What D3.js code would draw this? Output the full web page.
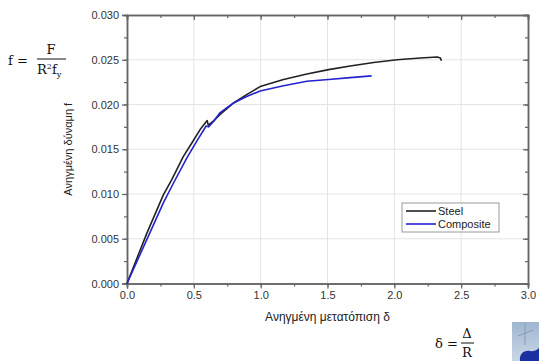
<!DOCTYPE html>
<html>
<head>
<meta charset="utf-8">
<script src="https://cdn.jsdelivr.net/npm/d3@7"></script>
<style>
  html, body { margin: 0; padding: 0; background: #fff; }
  svg { display: block; font-family: "Liberation Sans", Arial, sans-serif; }
</style>
</head>
<body>
<svg id="chart" width="539" height="361"></svg>
<script>
// Normalised displacement δ vs normalised force f
const steelDelta = [0, 0.05, 0.148, 0.272, 0.335, 0.422, 0.485, 0.547, 0.60, 0.608, 0.65, 0.697, 0.80, 0.895, 0.996, 1.171, 1.346, 1.508, 1.67, 1.845, 2.02, 2.195, 2.32, 2.345, 2.352];
const steelForce = [0, 0.0019, 0.0056, 0.0099, 0.0116, 0.0142, 0.0157, 0.0172, 0.0182, 0.0177, 0.0182, 0.0189, 0.0202, 0.0211, 0.0220, 0.0228, 0.0234, 0.0239, 0.0243, 0.0247, 0.0250, 0.0252, 0.0253, 0.0252, 0.0249];

const compDelta = [0, 0.148, 0.272, 0.347, 0.447, 0.522, 0.592, 0.61, 0.647, 0.697, 0.80, 0.895, 0.996, 1.171, 1.346, 1.508, 1.67, 1.83];
const compForce = [0, 0.0049, 0.0090, 0.0112, 0.0140, 0.0159, 0.0176, 0.0175, 0.0181, 0.0191, 0.0202, 0.0209, 0.0215, 0.0221, 0.0226, 0.0228, 0.0230, 0.0232];

const xTicks = [0, 0.5, 1.0, 1.5, 2.0, 2.5, 3.0];
const yTicks = [0, 0.005, 0.010, 0.015, 0.020, 0.025, 0.030];
const seriesNames = ["Steel", "Composite"];
const seriesColors = ["#222", "#2323d0"];

const svg = d3.select("#chart");
const plotLeft = 127, plotRight = 528, plotTop = 15, plotBottom = 283.5;

const x = d3.scaleLinear().domain([0, 3]).range([plotLeft, plotRight]);
const y = d3.scaleLinear().domain([0, 0.03]).range([plotBottom, plotTop]);

const minorX = d3.range(0, 3.01, 0.25);
const minorY = d3.range(0, 0.03001, 0.0025);

// grid
svg.append("g").selectAll("line").data(xTicks.slice(1, -1)).join("line")
  .attr("x1", d => x(d)).attr("x2", d => x(d)).attr("y1", plotTop).attr("y2", plotBottom)
  .attr("stroke", "#e4e4e4").attr("stroke-width", 1);
svg.append("g").selectAll("line").data(yTicks.slice(1, -1)).join("line")
  .attr("y1", d => y(d)).attr("y2", d => y(d)).attr("x1", plotLeft).attr("x2", plotRight)
  .attr("stroke", "#e4e4e4").attr("stroke-width", 1);

// axes: outward ticks bottom/left, mirrored inward ticks top/right
const axisColor = "#666";
svg.append("g").attr("transform", `translate(0,${plotBottom})`)
  .call(d3.axisBottom(x).tickValues(xTicks).tickFormat(d3.format(".1f")).tickSize(5).tickPadding(3));
svg.append("g").attr("transform", `translate(${plotLeft},0)`)
  .call(d3.axisLeft(y).tickValues(yTicks).tickFormat(d3.format(".3f")).tickSize(5).tickPadding(3));
svg.append("g").attr("transform", `translate(0,${plotTop})`)
  .call(d3.axisBottom(x).tickValues(xTicks).tickFormat("").tickSize(5));
svg.append("g").attr("transform", `translate(${plotRight},0)`)
  .call(d3.axisLeft(y).tickValues(yTicks).tickFormat("").tickSize(5));

// minor ticks
svg.append("g").attr("transform", `translate(0,${plotBottom})`)
  .call(d3.axisBottom(x).tickValues(minorX).tickFormat("").tickSize(3));
svg.append("g").attr("transform", `translate(${plotLeft},0)`)
  .call(d3.axisLeft(y).tickValues(minorY).tickFormat("").tickSize(3));
svg.append("g").attr("transform", `translate(0,${plotTop})`)
  .call(d3.axisBottom(x).tickValues(minorX).tickFormat("").tickSize(3));
svg.append("g").attr("transform", `translate(${plotRight},0)`)
  .call(d3.axisLeft(y).tickValues(minorY).tickFormat("").tickSize(3));

svg.selectAll(".domain").attr("stroke", axisColor).attr("stroke-width", 1.5);
svg.selectAll(".tick line").attr("stroke", axisColor).attr("stroke-width", 1.2);
svg.selectAll(".tick text").attr("fill", "#333").attr("font-size", 11)
  .attr("font-family", "Liberation Sans, Arial, sans-serif");

// curves
const line = d3.line().x(d => x(d[0])).y(d => y(d[1]));
const series = [
  d3.zip(steelDelta, steelForce),
  d3.zip(compDelta, compForce)
];
svg.append("g").selectAll("path").data(series).join("path")
  .attr("d", line)
  .attr("fill", "none")
  .attr("stroke", (d, i) => seriesColors[i])
  .attr("stroke-width", 1.6)
  .attr("stroke-linejoin", "round");

// axis titles
svg.append("text")
  .attr("x", (plotLeft + plotRight) / 2).attr("y", 321)
  .attr("text-anchor", "middle").attr("font-size", 12).attr("fill", "#222")
  .text("Ανηγμένη μετατόπιση δ");
svg.append("text")
  .attr("transform", `translate(72,${(plotTop + plotBottom) / 2}) rotate(-90)`)
  .attr("text-anchor", "middle").attr("font-size", 11).attr("fill", "#222")
  .text("Ανηγμένη δύναμη f");

// legend
const legend = svg.append("g").attr("transform", "translate(402,203)");
legend.append("rect").attr("width", 97).attr("height", 29)
  .attr("fill", "#fff").attr("stroke", "#999").attr("stroke-width", 1);
const legendRows = legend.selectAll("g").data(seriesNames).join("g")
  .attr("transform", (d, i) => `translate(0,${8 + i * 13})`);
legendRows.append("line").attr("x1", 4).attr("x2", 34)
  .attr("stroke", (d, i) => seriesColors[i]).attr("stroke-width", 1.6);
legendRows.append("text").attr("x", 36).attr("dy", "0.35em")
  .attr("font-size", 11).attr("fill", "#222").text(d => d);

// formulas
const serif = "DejaVu Serif, Liberation Serif, serif";
const fGroup = svg.append("g").attr("font-family", serif).attr("fill", "#111").attr("font-size", 13);
fGroup.append("text").attr("x", 8).attr("y", 65).text("f =");
fGroup.append("text").attr("x", 51).attr("y", 54).attr("text-anchor", "middle").text("F");
fGroup.append("line").attr("x1", 37).attr("x2", 66).attr("y1", 59).attr("y2", 59)
  .attr("stroke", "#111").attr("stroke-width", 1);
const den = fGroup.append("text").attr("x", 37).attr("y", 74);
den.append("tspan").text("R");
den.append("tspan").attr("font-size", 8).attr("dy", -5).text("2");
den.append("tspan").attr("dy", 5).text("f");
den.append("tspan").attr("font-size", 8).attr("dy", 3).text("y");

const dGroup = svg.append("g").attr("font-family", serif).attr("fill", "#111").attr("font-size", 13);
dGroup.append("text").attr("x", 435).attr("y", 348).text("δ =");
dGroup.append("text").attr("x", 467).attr("y", 338).attr("text-anchor", "middle").text("Δ");
dGroup.append("line").attr("x1", 461).attr("x2", 474).attr("y1", 343).attr("y2", 343)
  .attr("stroke", "#111").attr("stroke-width", 1);
dGroup.append("text").attr("x", 467).attr("y", 357).attr("text-anchor", "middle").text("R");

// small logo thumbnail in the corner
const defs = svg.append("defs");
const grad = defs.append("linearGradient").attr("id", "logoGrad")
  .attr("x1", 0).attr("y1", 0).attr("x2", 0).attr("y2", 1);
grad.append("stop").attr("offset", "0%").attr("stop-color", "#9fb6d0");
grad.append("stop").attr("offset", "100%").attr("stop-color", "#c9d7e6");
svg.append("rect").attr("x", 512).attr("y", 322).attr("width", 27).attr("height", 39)
  .attr("fill", "url(#logoGrad)");
svg.append("path")
  .attr("d", "M520,361 C519,354 524,350 530,351 C535,352 539,349 539,347 L539,361 Z")
  .attr("fill", "#1a2fa0");
svg.append("path")
  .attr("d", "M525,323 L525,345 M518,336 L533,330")
  .attr("stroke", "#8a9bb0").attr("stroke-width", 1).attr("fill", "none");
</script>
</body>
</html>
